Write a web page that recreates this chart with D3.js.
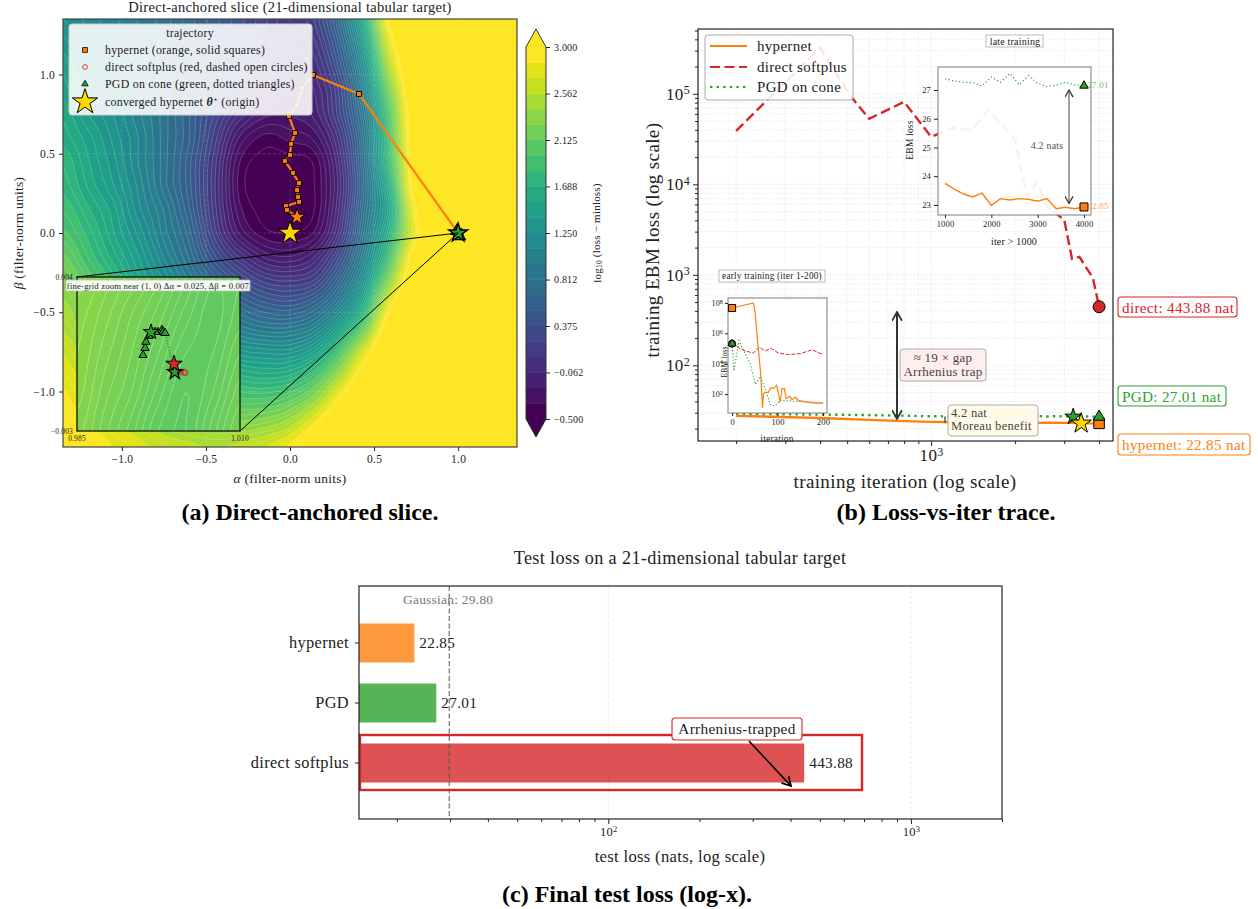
<!DOCTYPE html>
<html>
<head>
<meta charset="utf-8">
<title>Direct-anchored slice, loss trace, final test loss</title>
<script src="https://d3js.org/d3.v7.min.js"></script>
<style>
body { margin:0; background:#fff; }
svg { display:block; }
text { font-family:"Liberation Serif", "DejaVu Serif", serif; fill:#222; letter-spacing:0.02em; }
.cap { font-weight:bold; font-size:24px; fill:#000; letter-spacing:0; }
.tick text { font-family:"Liberation Serif", serif; }
</style>
</head>
<body>
<script>
var alphaRange = [-1.35, 1.35];
var betaRange = [1.35, -1.35];
var sliceField = [
 [1.25,1.15,1.05,0.95,0.85,0.70,0.55,0.40,0.25,0.10,0.25,0.80,1.70,3.10,3.5,3.5,3.5,3.5,3.5],
 [1.35,1.20,1.10,1.00,0.85,0.70,0.55,0.40,0.20,0.05,0.15,0.65,1.50,2.85,3.5,3.5,3.5,3.5,3.5],
 [1.45,1.30,1.15,1.00,0.85,0.70,0.50,0.30,0.10,-0.05,0.05,0.50,1.30,2.60,3.5,3.5,3.5,3.5,3.5],
 [1.50,1.35,1.20,1.05,0.85,0.65,0.45,0.20,0.00,-0.15,-0.05,0.35,1.15,2.30,3.4,3.5,3.5,3.5,3.5],
 [1.60,1.40,1.25,1.05,0.85,0.60,0.30,0.00,-0.18,-0.20,-0.10,0.30,1.00,2.10,3.3,3.5,3.5,3.5,3.5],
 [1.65,1.50,1.30,1.10,0.85,0.60,0.20,-0.22,-0.38,-0.33,-0.25,0.15,0.90,2.00,3.3,3.5,3.5,3.5,3.5],
 [1.75,1.55,1.35,1.10,0.85,0.55,0.12,-0.35,-0.46,-0.46,-0.40,0.05,0.85,1.95,3.2,3.5,3.5,3.5,3.5],
 [1.80,1.60,1.40,1.15,0.85,0.55,0.10,-0.38,-0.47,-0.48,-0.42,0.00,0.80,1.75,3.2,3.5,3.5,3.5,3.5],
 [1.90,1.70,1.50,1.20,0.95,0.60,0.12,-0.33,-0.46,-0.48,-0.42,0.05,0.85,1.60,3.0,3.5,3.5,3.5,3.5],
 [2.00,1.80,1.55,1.30,1.00,0.70,0.20,-0.22,-0.40,-0.42,-0.33,0.15,0.95,1.75,2.9,3.5,3.5,3.5,3.5],
 [2.15,1.90,1.65,1.40,1.10,0.80,0.40,0.08,-0.15,-0.20,-0.05,0.40,1.10,2.00,3.2,3.5,3.5,3.5,3.5],
 [2.30,2.05,1.80,1.50,1.25,0.95,0.65,0.40,0.20,0.15,0.25,0.70,1.35,2.40,3.4,3.5,3.5,3.5,3.5],
 [2.45,2.20,1.95,1.70,1.40,1.15,0.90,0.70,0.55,0.50,0.65,1.05,1.70,2.90,3.5,3.5,3.5,3.5,3.5],
 [2.55,2.30,2.10,1.85,1.60,1.40,1.20,1.00,0.90,0.90,1.05,1.50,2.20,3.30,3.5,3.5,3.5,3.5,3.5],
 [2.70,2.45,2.25,2.05,1.85,1.65,1.50,1.35,1.30,1.30,1.50,2.00,2.80,3.50,3.5,3.5,3.5,3.5,3.5],
 [2.80,2.60,2.40,2.25,2.05,1.90,1.80,1.70,1.65,1.70,1.95,2.50,3.20,3.50,3.5,3.5,3.5,3.5,3.5],
 [2.90,2.70,2.55,2.40,2.25,2.15,2.05,2.00,2.00,2.10,2.40,3.00,3.50,3.50,3.5,3.5,3.5,3.5,3.5],
 [3.00,2.85,2.70,2.60,2.45,2.35,2.30,2.30,2.35,2.50,2.90,3.40,3.50,3.50,3.5,3.5,3.5,3.5,3.5],
 [3.10,3.00,2.85,2.75,2.65,2.60,2.55,2.60,2.70,2.90,3.30,3.50,3.50,3.50,3.5,3.5,3.5,3.5,3.5]
];
var zoomField = [
 [2.41,2.37,2.33,2.28,2.22,2.16,2.18],
 [2.39,2.35,2.30,2.25,2.19,2.15,2.19],
 [2.38,2.33,2.28,2.22,2.16,2.16,2.22],
 [2.37,2.31,2.26,2.19,2.14,2.18,2.25],
 [2.35,2.29,2.23,2.16,2.14,2.21,2.28]
];
var sliceTicks = [-1, -0.5, 0, 0.5, 1];
var colorbarTicks = [-0.5, -0.062, 0.375, 0.812, 1.25, 1.688, 2.125, 2.562, 3];
var hyperAlpha = [1, 0.41, 0.137, 0.071, 0.042, -0.006, 0.03, 0.006, 0, -0.03, 0.018, 0.054, 0.042, 0.048, 0.054, -0.024, -0.018, 0.042];
var hyperBeta = [0, 0.877, 0.997, 0.915, 0.808, 0.738, 0.631, 0.562, 0.492, 0.454, 0.379, 0.315, 0.271, 0.227, 0.196, 0.17, 0.145, 0.101];
var pgdZoomAlpha = [0.99512, 0.99543, 0.99558, 0.99604, 0.99635, 0.99696, 0.99742, 0.99804, 0.99819, 0.9985, 1.00003];
var pgdZoomBeta = [0.00045, 0.00077, 0.00105, 0.00132, 0.0015, 0.0015, 0.0015, 0.00159, 0.0015, 0.00145, -0.00032];
var directZoomAlpha = [1.00003, 1.00049, 1.00095, 1.00141, 1.00157];
var directZoomBeta = [-0.00032, -0.00032, -0.00032, -0.00032, -0.00036];

// ---- panel (b)
var directIter = [200, 400, 520, 600, 800, 1000, 1200, 1400, 1600, 2000, 2200, 2400, 2600, 3000, 3200, 3400, 3800, 4000];
var directLoss = [39000, 322000, 90400, 53000, 81600, 33500, 42100, 40000, 66500, 31000, 7280, 10600, 5640, 4050, 1500, 1580, 926, 443.88];
var lateIter = [1000, 1200, 1400, 1600, 1800, 2000, 2200, 2400, 2600, 2800, 3000, 3200, 3400, 3600, 3800, 4000];
var lateHyper = [23.75, 23.55, 23.38, 23.28, 23.41, 22.99, 23.22, 23.17, 23.22, 23.2, 23.13, 23.22, 22.87, 22.92, 22.87, 22.93];
var latePgd = [27.39, 27.31, 27.27, 27.26, 27.14, 27.45, 27.27, 27.57, 27.19, 27.5, 27.23, 27.12, 27.17, 27.27, 27.17, 27.15];
var startIter = [200, 400, 600, 800];
var startHyper = [27.7, 26.2, 25, 24.2];
var startPgd = [29, 28.6, 28.2, 27.8];
var earlyHyperIter = [0, 47, 51, 56, 63, 67, 69, 73, 80, 85, 91, 98, 106, 110, 115, 119, 126, 132, 139, 146, 165, 183, 200];
var earlyHyperExp = [7.67, 8, 7.3, 5.54, 3.34, 1.08, 2.02, 2.13, 2.1, 2.42, 2.37, 2.57, 1.47, 2.35, 2.37, 1.69, 1.85, 1.63, 1.8, 1.58, 1.47, 1.4, 1.4];
var earlyDirectIter = [0, 14, 29, 47, 60, 73, 86, 102, 124, 150, 176, 200];
var earlyDirectExp = [5.32, 5.05, 4.84, 4.7, 5.1, 4.84, 5.01, 4.7, 4.6, 4.66, 4.92, 4.6];
var earlyPgdIter = [0, 4, 15, 25, 40, 51, 62, 73, 84, 95, 106, 128, 165, 200];
var earlyPgdExp = [5.32, 3.52, 5.52, 4.88, 4, 2.64, 3.16, 2.35, 1.32, 1.21, 1.58, 1.54, 1.47, 1.43];

// ---- panel (c)
var methods = ["hypernet", "PGD", "direct softplus"];
var testLoss = [22.85, 27.01, 443.88];
var methodColors = ["#ff7f0e", "#2ca02c", "#d62728"];
var gaussianLoss = 29.8;

var orange = "#ff7f0e", red = "#d62728", green = "#2ca02c", gold = "#ffd700";

var svg = d3.select("body").append("svg").attr("width", 1258).attr("height", 909);
var defs = svg.append("defs");
function addHead(id, color, s) {
  defs.append("marker").attr("id", id).attr("viewBox", "0 -5 10 10").attr("refX", 9).attr("refY", 0)
    .attr("markerUnits", "userSpaceOnUse").attr("markerWidth", s).attr("markerHeight", s)
    .attr("orient", "auto-start-reverse")
    .append("path").attr("d", "M1,-4.5L9,0L1,4.5").attr("fill", "none").attr("stroke", color).attr("stroke-width", 1.6);
}
addHead("headDark", "#333", 11);
addHead("headGray", "#444", 9);
addHead("headBlack", "#000", 11);

function label(g, x, y, str, size, opts) {
  opts = opts || {};
  var t = g.append("text").attr("x", x).attr("y", y).attr("font-size", size)
    .attr("text-anchor", opts.anchor || "middle").attr("dominant-baseline", "central").text(str);
  if (opts.fill) t.style("fill", opts.fill);
  if (opts.rotate) t.attr("transform", "rotate(" + opts.rotate + " " + x + " " + y + ")");
  return t;
}
function box(g, x0, y0, x1, y1, stroke, fill, r, sw, fo) {
  return g.append("rect").attr("x", x0).attr("y", y0).attr("width", x1 - x0).attr("height", y1 - y0)
    .attr("rx", r).attr("fill", fill).attr("fill-opacity", fo == null ? 1 : fo).attr("stroke", stroke).attr("stroke-width", sw);
}
function sym(g, type, size, x, y, fill, stroke, sw) {
  return g.append("path").attr("d", d3.symbol().type(type).size(size)())
    .attr("transform", "translate(" + x + "," + y + ")")
    .attr("fill", fill).attr("stroke", stroke || "#000").attr("stroke-width", sw == null ? 1 : sw);
}
// power-of-ten tick labels
function powerLabels(axisG, size, sup) {
  axisG.selectAll(".tick text").each(function(d) {
    var t = d3.select(this);
    if (!d || Math.abs(Math.log10(d) % 1) > 1e-6) { t.text(""); return; }
    t.text("10").attr("font-size", size);
    t.append("tspan").attr("dy", "-0.45em").attr("font-size", sup).text(Math.round(Math.log10(d)));
  });
}
function decadeTicks(lo, hi) {
  var out = [];
  for (var e = -1; e < 7; e++) for (var m = 1; m < 10; m++) {
    var v = m * Math.pow(10, e);
    if (v >= lo && v <= hi) out.push(v);
  }
  return out;
}
function styleAxis(g, color) {
  g.select(".domain").remove();
  g.selectAll(".tick line").attr("stroke", color || "#222");
}
function catmull(p0, p1, p2, p3, t) {
  return 0.5 * (2 * p1 + (p2 - p0) * t + (2 * p0 - 5 * p1 + 4 * p2 - p3) * t * t + (3 * p1 - p0 - 3 * p2 + p3) * t * t * t);
}
// resample a coarse table on a finer grid so that the contour outlines come out round
function fineGrid(rows, k) {
  var m = rows.length, n = rows[0].length, w = (n - 1) * k + 1, h = (m - 1) * k + 1, out = new Array(w * h);
  function at(j, i) { return rows[Math.max(0, Math.min(m - 1, j))][Math.max(0, Math.min(n - 1, i))]; }
  for (var y = 0; y < h; y++) {
    var j = Math.min(Math.floor(y / k), m - 2), v = y / k - j;
    for (var x = 0; x < w; x++) {
      var i = Math.min(Math.floor(x / k), n - 2), u = x / k - i, col = [];
      for (var a = -1; a < 3; a++) col.push(catmull(at(j + a, i - 1), at(j + a, i), at(j + a, i + 1), at(j + a, i + 2), u));
      out[y * w + x] = catmull(col[0], col[1], col[2], col[3], v);
    }
  }
  return { values: out, w: w, h: h };
}
function contourPath(f, sx, sy) {
  var px = d3.scaleLinear().domain([0.5, f.w - 0.5]).range(sx.domain().map(sx));
  var py = d3.scaleLinear().domain([0.5, f.h - 0.5]).range(sy.domain().map(sy));
  return d3.geoPath(d3.geoTransform({ point: function(x, y) { this.stream.point(px(x), py(y)); } }));
}

// ===================== panel (a) =====================
var ax = { l: 63, r: 517, t: 19, b: 447 };
var xA = d3.scaleLinear().domain(alphaRange).range([ax.l, ax.r]);
var yA = d3.scaleLinear().domain(betaRange).range([ax.t, ax.b]);
var levels = d3.range(25).map(function(k) { return -0.5 + k * 3.5 / 24; });
var bandColor = function(k) { return d3.interpolateViridis(Math.min(k, 23) / 23); };

defs.append("clipPath").attr("id", "clipA").append("rect")
  .attr("x", ax.l).attr("y", ax.t).attr("width", ax.r - ax.l).attr("height", ax.b - ax.t);
var a = svg.append("g");
var field = a.append("g").attr("clip-path", "url(#clipA)");
field.append("rect").attr("x", ax.l).attr("y", ax.t).attr("width", ax.r - ax.l).attr("height", ax.b - ax.t).attr("fill", bandColor(0));

var fineA = fineGrid(sliceField, 8);
var pathA = contourPath(fineA, xA, yA);
field.selectAll("path.band").data(d3.contours().size([fineA.w, fineA.h]).thresholds(levels)(fineA.values))
  .enter().append("path").attr("class", "band")
  .attr("d", pathA).attr("fill", function(d, i) { return bandColor(i); });
var lineLevels = d3.range(49).map(function(k) { return -0.5 + k * 3.5 / 48; });
field.selectAll("path.iso").data(d3.contours().size([fineA.w, fineA.h]).thresholds(lineLevels)(fineA.values))
  .enter().append("path").attr("class", "iso")
  .attr("d", pathA).attr("fill", "none").attr("stroke", "#fff").attr("stroke-opacity", 0.38).attr("stroke-width", 0.5);

// faint dashed grid
sliceTicks.forEach(function(v) {
  field.append("line").attr("x1", xA(v)).attr("x2", xA(v)).attr("y1", ax.t).attr("y2", ax.b)
    .attr("stroke", "#fff").attr("stroke-opacity", 0.22).attr("stroke-width", 0.7).attr("stroke-dasharray", "3,2");
  field.append("line").attr("y1", yA(v)).attr("y2", yA(v)).attr("x1", ax.l).attr("x2", ax.r)
    .attr("stroke", "#fff").attr("stroke-opacity", 0.22).attr("stroke-width", 0.7).attr("stroke-dasharray", "3,2");
});

// trajectory
var lineA = d3.line().x(function(d) { return xA(d[0]); }).y(function(d) { return yA(d[1]); });
var hyperPts = d3.zip(hyperAlpha, hyperBeta);
field.append("path").attr("d", lineA(hyperPts)).attr("fill", "none").attr("stroke", orange).attr("stroke-width", 2.2);
hyperPts.slice(1, -1).forEach(function(p) { sym(field, d3.symbolSquare, 24, xA(p[0]), yA(p[1]), orange, "#000", 0.9); });
var last = hyperPts[hyperPts.length - 1];
sym(field, d3.symbolStar, 90, xA(last[0]), yA(last[1]), orange, "#000", 1);
sym(field, d3.symbolStar, 170, xA(0), yA(0), gold, "#000", 1);

// cluster at (1, 0)
sym(field, d3.symbolSquare, 70, xA(1), yA(0), "#111", "#000", 1);
sym(field, d3.symbolTriangle, 60, xA(0.993), yA(0.012), green, "#000", 1.2);
sym(field, d3.symbolTriangle, 60, xA(1.008), yA(-0.02), green, "#000", 1.2);
sym(field, d3.symbolStar, 110, xA(1), yA(0), green, "#000", 1.4);

// leader lines to the inset
var zoomBox = { l: 77, r: 240, t: 277, b: 431 };
a.append("line").attr("x1", xA(1)).attr("y1", yA(0)).attr("x2", zoomBox.l).attr("y2", zoomBox.t).attr("stroke", "#000").attr("stroke-width", 1);
a.append("line").attr("x1", xA(1)).attr("y1", yA(0)).attr("x2", zoomBox.r).attr("y2", zoomBox.b).attr("stroke", "#000").attr("stroke-width", 1);

// legend
box(a, 69, 24, 312, 115, "#ccc", "#fff", 3, 1, 0.88);
label(a, 190, 33, "trajectory", 11.8);
sym(a, d3.symbolSquare, 24, 85, 50, orange, "#000", 0.8);
sym(a, d3.symbolCircle, 18, 85, 67, "none", red, 0.9);
sym(a, d3.symbolTriangle, 18, 85, 84, green, "#000", 0.8);
sym(a, d3.symbolStar, 200, 85, 102, gold, "#000", 1);
label(a, 105, 50, "hypernet (orange, solid squares)", 11.9, { anchor: "start" });
label(a, 105, 67, "direct softplus (red, dashed open circles)", 11.9, { anchor: "start" });
label(a, 105, 84, "PGD on cone (green, dotted triangles)", 11.9, { anchor: "start" });
var convText = label(a, 105, 102, "converged hypernet ", 11.9, { anchor: "start" });
convText.append("tspan").attr("font-weight", "bold").attr("font-style", "italic").text("θ");
convText.append("tspan").attr("dy", "-0.4em").attr("font-size", 8).text("⋆");
convText.append("tspan").attr("dy", "0.3em").text("  (origin)");

// inset
var xZ = d3.scaleLinear().domain([0.985, 1.01]).range([zoomBox.l, zoomBox.r]);
var yZ = d3.scaleLinear().domain([0.004, -0.003]).range([zoomBox.t, zoomBox.b]);
defs.append("clipPath").attr("id", "clipZ").append("rect")
  .attr("x", zoomBox.l).attr("y", zoomBox.t).attr("width", zoomBox.r - zoomBox.l).attr("height", zoomBox.b - zoomBox.t);
var z = a.append("g").attr("clip-path", "url(#clipZ)");
z.append("rect").attr("x", zoomBox.l).attr("y", zoomBox.t).attr("width", zoomBox.r - zoomBox.l).attr("height", zoomBox.b - zoomBox.t).attr("fill", "#6ccd5a");
var fineZ = fineGrid(zoomField, 8);
var pathZ = contourPath(fineZ, xZ, yZ);
var zoomLevels = d3.range(2.06, 2.46, 0.02);
z.selectAll("path.band").data(d3.contours().size([fineZ.w, fineZ.h]).thresholds(zoomLevels)(fineZ.values))
  .enter().append("path").attr("class", "band").attr("d", pathZ)
  .attr("fill", function(d) { return d3.interpolateViridis((d.value + 0.5) / 3.5); });
z.selectAll("path.iso").data(d3.contours().size([fineZ.w, fineZ.h]).thresholds(zoomLevels)(fineZ.values))
  .enter().append("path").attr("class", "iso").attr("d", pathZ)
  .attr("fill", "none").attr("stroke", "#fff").attr("stroke-opacity", 0.55).attr("stroke-width", 0.6);

var lineZ = d3.line().x(function(d) { return xZ(d[0]); }).y(function(d) { return yZ(d[1]); });
var pgdZ = d3.zip(pgdZoomAlpha, pgdZoomBeta);
var dirZ = d3.zip(directZoomAlpha, directZoomBeta);
z.append("path").attr("d", lineZ(pgdZ)).attr("fill", "none").attr("stroke", green).attr("stroke-width", 1.4).attr("stroke-dasharray", "1.4,1.8");
dirZ.forEach(function(p) { sym(z, d3.symbolCircle, 26, xZ(p[0]), yZ(p[1]), "none", red, 0.9); });
sym(z, d3.symbolSquare, 50, xZ(1), yZ(-0.00032), "#111", "#000", 1);
pgdZ.slice(0, -1).forEach(function(p) { sym(z, d3.symbolTriangle, 30, xZ(p[0]), yZ(p[1]), green, "#000", 1); });
sym(z, d3.symbolStar, 70, xZ(1), yZ(-0.00032), green, "#000", 1.2);
sym(z, d3.symbolStar, 75, xZ(0.99635), yZ(0.0015), green, "#000", 1);
sym(z, d3.symbolStar, 85, xZ(0.99988), yZ(0.00005), red, "#000", 1);

a.append("rect").attr("x", zoomBox.l).attr("y", zoomBox.t).attr("width", zoomBox.r - zoomBox.l).attr("height", zoomBox.b - zoomBox.t)
  .attr("fill", "none").attr("stroke", "#111").attr("stroke-width", 1.3);
[0.004, -0.003].forEach(function(v) { label(a, 73, yZ(v), d3.format(".3f")(v), 7.5, { anchor: "end" }); });
[0.985, 1.01].forEach(function(v) { label(a, xZ(v), zoomBox.b + 7, d3.format(".3f")(v), 7.5); });
box(a, 66, 280, 250, 291, "#bbb", "#fff", 1, 0.8, 0.92);
label(a, 158, 285.5, "fine-grid zoom near (1, 0)  Δα = 0.025, Δβ = 0.007", 8.7);

a.append("rect").attr("x", ax.l).attr("y", ax.t).attr("width", ax.r - ax.l).attr("height", ax.b - ax.t)
  .attr("fill", "none").attr("stroke", "#444").attr("stroke-width", 1.2);
var axA = a.append("g").attr("transform", "translate(0," + ax.b + ")")
  .call(d3.axisBottom(xA).tickValues(sliceTicks).tickFormat(d3.format(".1f")).tickSize(4).tickPadding(4));
styleAxis(axA); axA.selectAll("text").attr("font-size", 11.5);
var ayA = a.append("g").attr("transform", "translate(" + ax.l + ",0)")
  .call(d3.axisLeft(yA).tickValues(sliceTicks).tickFormat(d3.format(".1f")).tickSize(4).tickPadding(4));
styleAxis(ayA); ayA.selectAll("text").attr("font-size", 11.5);
label(a, 290, 7, "Direct-anchored slice (21-dimensional tabular target)", 14.5);
var xlA = label(a, 290, 478, "", 13.4);
xlA.append("tspan").attr("font-style", "italic").text("α");
xlA.append("tspan").text(" (filter-norm units)");
var ylA = label(a, 18, 233, "", 13.4, { rotate: -90 });
ylA.append("tspan").attr("font-style", "italic").text("β");
ylA.append("tspan").text(" (filter-norm units)");

// colorbar
var cb = { l: 526, r: 546, t: 47, b: 419 };
var yC = d3.scaleLinear().domain([-0.5, 3]).range([cb.b, cb.t]);
var c = svg.append("g");
c.selectAll("rect.band").data(levels.slice(0, 24)).enter().append("rect").attr("class", "band")
  .attr("x", cb.l).attr("width", cb.r - cb.l)
  .attr("y", function(d, i) { return yC(levels[i + 1]); })
  .attr("height", function(d, i) { return yC(levels[i]) - yC(levels[i + 1]) + 0.4; })
  .attr("fill", function(d, i) { return bandColor(i); });
c.append("path").attr("d", d3.line()([[cb.l, cb.t], [(cb.l + cb.r) / 2, cb.t - 18], [cb.r, cb.t]])).attr("fill", bandColor(23));
c.append("path").attr("d", d3.line()([[cb.l, cb.b], [(cb.l + cb.r) / 2, cb.b + 18], [cb.r, cb.b]])).attr("fill", bandColor(0));
c.append("path").attr("d", d3.line()([[cb.l, cb.t], [(cb.l + cb.r) / 2, cb.t - 18], [cb.r, cb.t], [cb.r, cb.b], [(cb.l + cb.r) / 2, cb.b + 18], [cb.l, cb.b]]) + "Z")
  .attr("fill", "none").attr("stroke", "#333").attr("stroke-width", 1);
var acb = c.append("g").attr("transform", "translate(" + cb.r + ",0)")
  .call(d3.axisRight(yC).tickValues(colorbarTicks).tickFormat(d3.format(".3f")).tickSize(4).tickPadding(4));
styleAxis(acb); acb.selectAll("text").attr("font-size", 10);
var cbl = label(c, 597, 233, "log", 11, { rotate: -90 });
cbl.append("tspan").attr("font-size", 7.5).attr("dy", "0.3em").text("10");
cbl.append("tspan").attr("dy", "-0.3em").text(" (loss − minloss)");

// ===================== panel (b) =====================
var bx = { l: 698, r: 1113, t: 29, b: 441 };
var xB = d3.scaleLog().domain([146, 4487]).range([bx.l, bx.r]);
var yB = d3.scaleLog().domain([14.6, 520000]).range([bx.b, bx.t]);
var b = svg.append("g");
var xMinor = decadeTicks(146, 4487), yMinor = decadeTicks(14.6, 520000);
b.selectAll("line.gx").data(xMinor).enter().append("line").attr("class", "gx")
  .attr("x1", xB).attr("x2", xB).attr("y1", bx.t).attr("y2", bx.b)
  .attr("stroke", "#ddd").attr("stroke-width", 0.6).attr("stroke-dasharray", "1.5,1.5");
b.selectAll("line.gy").data(yMinor).enter().append("line").attr("class", "gy")
  .attr("y1", yB).attr("y2", yB).attr("x1", bx.l).attr("x2", bx.r)
  .attr("stroke", "#ddd").attr("stroke-width", 0.6).attr("stroke-dasharray", "1.5,1.5");

var lineB = d3.line().x(function(d) { return xB(d[0]); }).y(function(d) { return yB(d[1]); });
var hyperFull = d3.zip(startIter.concat(lateIter), startHyper.concat(lateHyper));
var pgdFull = d3.zip(startIter.concat(lateIter), startPgd.concat(latePgd));
b.append("path").attr("d", lineB(pgdFull)).attr("fill", "none").attr("stroke", green).attr("stroke-width", 2.4).attr("stroke-dasharray", "2.4,4.2");
b.append("path").attr("d", lineB(hyperFull)).attr("fill", "none").attr("stroke", orange).attr("stroke-width", 2.4);
b.append("path").attr("d", lineB(d3.zip(directIter, directLoss))).attr("fill", "none").attr("stroke", red).attr("stroke-width", 2.4).attr("stroke-dasharray", "10,4.5");

// legend
box(b, 705, 35, 853, 100, "#aaa", "#fff", 3, 1, 0.88);
[[46, orange, null, "hypernet"], [67, red, "10,4.5", "direct softplus"], [87, green, "2.4,4.2", "PGD on cone"]].forEach(function(r) {
  var l = b.append("line").attr("x1", 710).attr("x2", 747).attr("y1", r[0]).attr("y2", r[0]).attr("stroke", r[1]).attr("stroke-width", 2.2);
  if (r[2]) l.attr("stroke-dasharray", r[2]);
  label(b, 757, r[0], r[3], 15, { anchor: "start" });
});

// late inset
var lt = { l: 938, r: 1091, t: 67, b: 215 };
var xL = d3.scaleLinear().domain([849, 4151]).range([lt.l, lt.r]);
var yL = d3.scaleLinear().domain([22.65, 27.8]).range([lt.b, lt.t]);
box(b, lt.l, lt.t, lt.r, lt.b, "#888", "#fff", 0, 1.1, 0.93);
var lineL = d3.line().x(function(d) { return xL(d[0]); }).y(function(d) { return yL(d[1]); });
b.append("path").attr("d", lineL(d3.zip(lateIter, latePgd))).attr("fill", "none").attr("stroke", green).attr("stroke-width", 1.2).attr("stroke-dasharray", "1.2,2.4");
b.append("path").attr("d", lineL(d3.zip(lateIter, lateHyper))).attr("fill", "none").attr("stroke", orange).attr("stroke-width", 1.4);
sym(b, d3.symbolTriangle, 32, xL(4000), yL(27.15), green, "#000", 1);
sym(b, d3.symbolSquare, 64, xL(4000), yL(22.93), orange, "#000", 1);
b.append("line").attr("x1", 1069).attr("x2", 1069).attr("y1", yL(27)).attr("y2", yL(23.05))
  .attr("stroke", "#444").attr("stroke-width", 1).attr("marker-start", "url(#headGray)").attr("marker-end", "url(#headGray)");
label(b, 1047, 145, "4.2 nats", 10, { fill: "#555" });
label(b, 1098, 85, "27.01", 9, { fill: "#6cbf6c" });
label(b, 1098, 206, "22.85", 9, { fill: "#ffa75c" });
var axL = b.append("g").attr("transform", "translate(0," + lt.b + ")")
  .call(d3.axisBottom(xL).tickValues([1000, 2000, 3000, 4000]).tickFormat(d3.format("d")).tickSize(3).tickPadding(3));
styleAxis(axL); axL.selectAll("text").attr("font-size", 8.5);
var ayL = b.append("g").attr("transform", "translate(" + lt.l + ",0)")
  .call(d3.axisLeft(yL).tickValues([23, 24, 25, 26, 27]).tickFormat(d3.format("d")).tickSize(4).tickPadding(3));
styleAxis(ayL); ayL.selectAll("text").attr("font-size", 8.5);
label(b, 910, 140, "EBM loss", 9.5, { rotate: -90 });
label(b, 1014, 241, "iter  > 1000", 10);
box(b, 986, 35, 1043, 47, "#bbb", "#fff", 0, 1);
label(b, 1015, 41, "late training", 10);

// early inset
var et = { l: 728, r: 827, t: 298, b: 413 };
var xE = d3.scaleLinear().domain([-9, 209]).range([et.l, et.r]);
var yE = d3.scaleLinear().domain([0.75, 8.33]).range([et.b, et.t]);
box(b, et.l, et.t, et.r, et.b, "#888", "#fff", 0, 1.1, 0.93);
var lineE = d3.line().x(function(d) { return xE(d[0]); }).y(function(d) { return yE(d[1]); });
b.append("path").attr("d", lineE(d3.zip(earlyPgdIter, earlyPgdExp))).attr("fill", "none").attr("stroke", green).attr("stroke-width", 1.1).attr("stroke-dasharray", "1.2,2");
b.append("path").attr("d", lineE(d3.zip(earlyDirectIter, earlyDirectExp))).attr("fill", "none").attr("stroke", red).attr("stroke-width", 1).attr("stroke-dasharray", "4,1.6");
b.append("path").attr("d", lineE(d3.zip(earlyHyperIter, earlyHyperExp))).attr("fill", "none").attr("stroke", orange).attr("stroke-width", 1.2);
sym(b, d3.symbolSquare, 50, xE(0), yE(7.67), orange, "#000", 1);
sym(b, d3.symbolCircle, 40, xE(0), yE(5.32), red, "#000", 1);
sym(b, d3.symbolTriangle, 26, xE(0), yE(5.32), green, "#000", 0.8);
var axE = b.append("g").attr("transform", "translate(0," + et.b + ")")
  .call(d3.axisBottom(xE).tickValues([0, 100, 200]).tickFormat(d3.format("d")).tickSize(3).tickPadding(3));
styleAxis(axE); axE.selectAll("text").attr("font-size", 8.5);
var ayE = b.append("g").attr("transform", "translate(" + et.l + ",0)")
  .call(d3.axisLeft(yE).tickValues([2, 4, 6, 8]).tickFormat(function() { return ""; }).tickSize(3).tickPadding(2));
styleAxis(ayE);
ayE.selectAll(".tick text").each(function(d) {
  var t = d3.select(this).attr("font-size", 8).text("10");
  t.append("tspan").attr("dy", "-0.4em").attr("font-size", 6).text(d);
});
label(b, 724, 362, "EBM loss", 7.5, { rotate: -90 });
label(b, 777, 439, "iteration", 9.5);
box(b, 719, 270, 825, 282, "#bbb", "#fff", 0, 1);
label(b, 772, 276, "early training (iter 1-200)", 9.3);

// gap annotations
b.append("line").attr("x1", 897).attr("x2", 897).attr("y1", 312).attr("y2", 419)
  .attr("stroke", "#333").attr("stroke-width", 2).attr("marker-start", "url(#headDark)").attr("marker-end", "url(#headDark)");
box(b, 900, 349, 986, 381, "#aaa", "#ffeeee", 3, 1);
label(b, 943, 357, "≈ 19 ×  gap", 13, { fill: "#444" });
label(b, 943, 371, "Arrhenius trap", 13, { fill: "#444" });
b.append("line").attr("x1", 945).attr("x2", 945).attr("y1", yB(27.2)).attr("y2", yB(23.2))
  .attr("stroke", "#333").attr("stroke-width", 1.2);
box(b, 948, 405, 1038, 436, "#aaa", "#fffbe8", 3, 1);
label(b, 951, 413, "4.2 nat", 12.6, { anchor: "start", fill: "#444" });
label(b, 951, 426, "Moreau benefit", 12.6, { anchor: "start", fill: "#444" });

// end markers
sym(b, d3.symbolStar, 85, xB(3230), yB(27), green, "#000", 1);
sym(b, d3.symbolSquare, 110, xB(4000), yB(22.85), orange, "#000", 1);
sym(b, d3.symbolTriangle, 60, xB(4000), yB(27.01), green, "#000", 1);
sym(b, d3.symbolStar, 130, xB(3450), yB(22.85), gold, "#000", 1);
sym(b, d3.symbolCircle, 113, xB(4000), yB(443.88), red, "#000", 1);

b.append("rect").attr("x", bx.l).attr("y", bx.t).attr("width", bx.r - bx.l).attr("height", bx.b - bx.t)
  .attr("fill", "none").attr("stroke", "#222").attr("stroke-width", 1.2);
var axB = b.append("g").attr("transform", "translate(0," + bx.b + ")")
  .call(d3.axisBottom(xB).tickValues(xMinor).tickSize(3).tickPadding(5));
styleAxis(axB); powerLabels(axB, 17, 12);
axB.selectAll(".tick").filter(function(d) { return d === 1000; }).select("line").attr("y2", 5);
var ayB = b.append("g").attr("transform", "translate(" + bx.l + ",0)")
  .call(d3.axisLeft(yB).tickValues(yMinor).tickSize(3).tickPadding(5));
styleAxis(ayB); powerLabels(ayB, 17, 12);
ayB.selectAll(".tick").filter(function(d) { return Math.abs(Math.log10(d) % 1) < 1e-6; }).select("line").attr("x2", -5);
label(b, 905, 481, "training iteration (log scale)", 19);
label(b, 652, 240, "training EBM loss (log scale)", 19, { rotate: -90 });

[[1118, 297, 1237, 317, red, "direct: 443.88 nat"], [1118, 386, 1226, 406, green, "PGD: 27.01 nat"], [1118, 434, 1250, 455, orange, "hypernet: 22.85 nat"]].forEach(function(r) {
  box(b, r[0], r[1], r[2], r[3], r[4], "#fff", 3, 1.1);
  label(b, r[0] + 4, (r[1] + r[3]) / 2, r[5], 15.2, { anchor: "start", fill: r[4] });
});

// ===================== panel (c) =====================
var cx = { l: 359, r: 1002, t: 586, b: 819 };
var xT = d3.scaleLog().domain([15, 2000]).range([cx.l, cx.r]);
var yT = d3.scaleBand().domain(methods.concat([""])).range([613, 853]).paddingInner(0.35).paddingOuter(0.175);
var p = svg.append("g");
[100, 1000].forEach(function(v) {
  p.append("line").attr("x1", xT(v)).attr("x2", xT(v)).attr("y1", cx.t).attr("y2", cx.b)
    .attr("stroke", "#e4e4e4").attr("stroke-width", 0.8).attr("stroke-dasharray", "3,2");
});
p.selectAll("rect.bar").data(methods).enter().append("rect").attr("class", "bar")
  .attr("x", cx.l).attr("y", function(d) { return yT(d); }).attr("height", yT.bandwidth())
  .attr("width", function(d, i) { return xT(testLoss[i]) - cx.l; })
  .attr("fill", function(d, i) { return methodColors[i]; })
  .attr("fill-opacity", 0.8);
p.selectAll("text.val").data(methods).enter().append("text").attr("class", "val")
  .attr("x", function(d, i) { return xT(testLoss[i]) + 5; })
  .attr("y", function(d) { return yT(d) + yT.bandwidth() / 2 - 1; })
  .attr("dominant-baseline", "central").attr("font-size", 15.3)
  .text(function(d, i) { return testLoss[i].toFixed(2); });
p.append("line").attr("x1", xT(gaussianLoss)).attr("x2", xT(gaussianLoss)).attr("y1", cx.t).attr("y2", cx.b)
  .attr("stroke", "#555").attr("stroke-width", 1).attr("stroke-dasharray", "5,2.5");
label(p, 403, 599, "Gaussian: 29.80", 13.4, { anchor: "start", fill: "#777" });
p.append("rect").attr("x", 360).attr("y", 735).attr("width", 502).attr("height", 55)
  .attr("fill", "none").attr("stroke", red).attr("stroke-width", 2.4);
p.append("line").attr("x1", 749).attr("y1", 741).attr("x2", 791).attr("y2", 786)
  .attr("stroke", "#000").attr("stroke-width", 1.6).attr("marker-end", "url(#headBlack)");
box(p, 672, 718, 802, 740, red, "#fff", 3, 1.1);
label(p, 737, 728.5, "Arrhenius-trapped", 15.3);

p.append("rect").attr("x", cx.l).attr("y", cx.t).attr("width", cx.r - cx.l).attr("height", cx.b - cx.t)
  .attr("fill", "none").attr("stroke", "#222").attr("stroke-width", 1.2);
var axT = p.append("g").attr("transform", "translate(0," + cx.b + ")")
  .call(d3.axisBottom(xT).tickValues(decadeTicks(15, 2000)).tickSize(3).tickPadding(5));
styleAxis(axT); powerLabels(axT, 12.5, 8.5);
axT.selectAll(".tick").filter(function(d) { return d === 100 || d === 1000; }).select("line").attr("y2", 5);
var ayT = p.append("g").attr("transform", "translate(" + cx.l + ",0)")
  .call(d3.axisLeft(yT).tickValues(methods).tickSize(4).tickPadding(6));
styleAxis(ayT); ayT.selectAll("text").attr("font-size", 16.4);
label(p, 680, 856, "test loss (nats, log scale)", 16.6);
label(p, 680, 558, "Test loss on a 21-dimensional tabular target", 18.2);

// captions
label(svg, 310, 512, "(a) Direct-anchored slice.", 24).attr("class", "cap");
label(svg, 946, 512, "(b) Loss-vs-iter trace.", 24).attr("class", "cap");
label(svg, 627, 894, "(c) Final test loss (log-x).", 24).attr("class", "cap");
</script>
</body>
</html>
